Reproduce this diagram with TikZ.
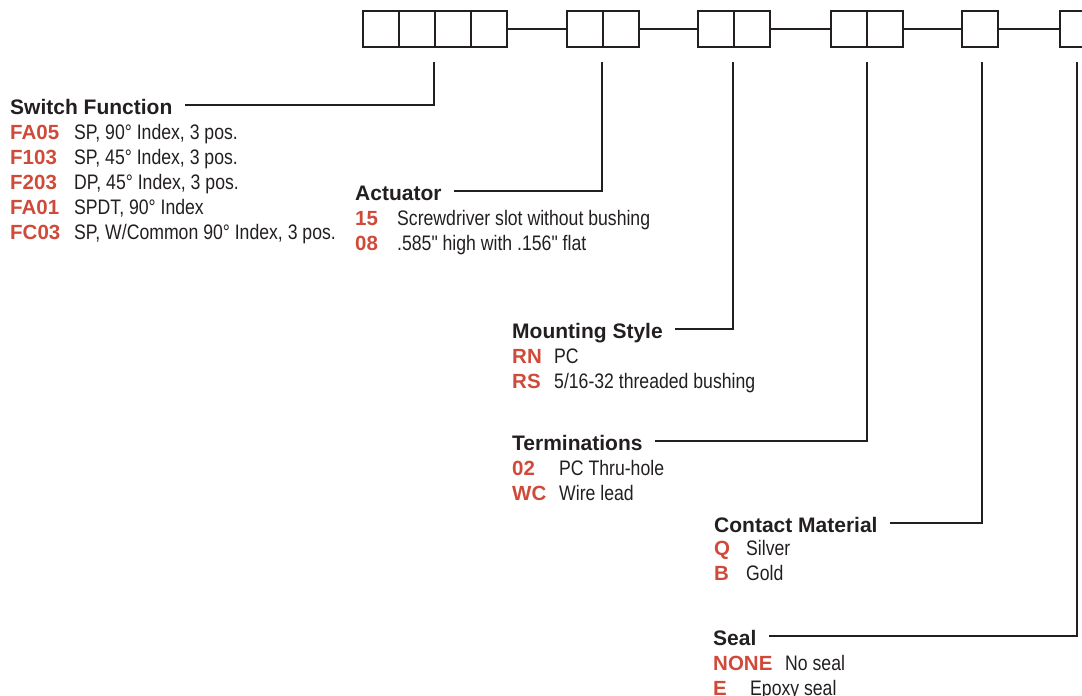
\documentclass[tikz,border=0pt]{standalone}
\usepackage{fontspec}
\setmainfont{Liberation Sans}
\newfontfamily\condfont{Liberation Sans}[FakeStretch=0.84]
\usetikzlibrary{calc}
\definecolor{codered}{RGB}{208,74,58}
\definecolor{ink}{RGB}{35,31,32}
\begin{document}
\begin{tikzpicture}[x=1pt,y=-1pt,
  cell/.style={draw=ink, line width=1.3pt, minimum width=36pt, minimum height=36pt, inner sep=0pt, outer sep=0pt},
  head/.style={anchor=base west, inner sep=0pt, font=\fontsize{21}{21}\selectfont\bfseries, text=ink},
  code/.style={anchor=base west, inner sep=0pt, font=\fontsize{20.5}{20.5}\selectfont\bfseries, text=codered},
  desc/.style={anchor=base west, inner sep=0pt, font=\fontsize{21}{21}\selectfont\condfont, text=ink},
  lead/.style={draw=ink, line width=1.2pt}]
\useasboundingbox (0,0) rectangle (1082,696);
\clip (0,0) rectangle (1082,696);
% code boxes
\node[cell] (b11) at (381,29) {};
\node[cell] (b12) at (417,29) {};
\node[cell] (b13) at (453,29) {};
\node[cell] (b14) at (489,29) {};
\node[cell] (b21) at (585,29) {};
\node[cell] (b22) at (621,29) {};
\node[cell] (b31) at (716,29) {};
\node[cell] (b32) at (752,29) {};
\node[cell] (b41) at (849,29) {};
\node[cell] (b42) at (885,29) {};
\node[cell] (b51) at (980,29) {};
\node[cell] (b61) at (1078,29) {};
\draw[lead] (b14.east) -- (b21.west);
\draw[lead] (b22.east) -- (b31.west);
\draw[lead] (b32.east) -- (b41.west);
\draw[lead] (b42.east) -- (b51.west);
\draw[lead] (b51.east) -- (b61.west);
% tick starts
\coordinate (t1) at (434,62);
\coordinate (t2) at (602,62);
\coordinate (t3) at (733,62);
\coordinate (t4) at (867,62);
\coordinate (t5) at (982,62);
\coordinate (t6) at (1077,62);
% Switch Function
\node[head] (h1) at (10,114.5) {Switch Function};
\node[code] (c11) at (10,139) {FA05};
\node[desc] (d11) at (74,139) {SP, 90° Index, 3 pos.};
\node[code] (c12) at (10,164) {F103};
\node[desc] (d12) at (74,164) {SP, 45° Index, 3 pos.};
\node[code] (c13) at (10,189) {F203};
\node[desc] (d13) at (74,189) {DP, 45° Index, 3 pos.};
\node[code] (c14) at (10,214) {FA01};
\node[desc] (d14) at (74,214) {SPDT, 90° Index};
\node[code] (c15) at (10,239) {FC03};
\node[desc] (d15) at (74,239) {SP, W/Common 90° Index, 3 pos.};
% Actuator
\node[head] (h2) at (355,200.5) {Actuator};
\node[code] (c21) at (355,225.5) {15};
\node[desc] (d21) at (397,225.5) {Screwdriver slot without bushing};
\node[code] (c22) at (355,250.5) {08};
\node[desc] (d22) at (397,250.5) {.585" high with .156" flat};
% Mounting Style
\node[head] (h3) at (512,338.5) {Mounting Style};
\node[code] (c31) at (512,363.5) {RN};
\node[desc] (d31) at (554,363.5) {PC};
\node[code] (c32) at (512,388.5) {RS};
\node[desc] (d32) at (554,388.5) {5/16-32 threaded bushing};
% Terminations
\node[head] (h4) at (512,450.5) {Terminations};
\node[code] (c41) at (512,475) {02};
\node[desc] (d41) at (559,475) {PC Thru-hole};
\node[code] (c42) at (512,500) {WC};
\node[desc] (d42) at (559,500) {Wire lead};
% Contact Material
\node[head] (h5) at (714,532.5) {Contact Material};
\node[code] (c51) at (714,555.5) {Q};
\node[desc] (d51) at (746,555.5) {Silver};
\node[code] (c52) at (714,580.5) {B};
\node[desc] (d52) at (746,580.5) {Gold};
% Seal
\node[head] (h6) at (713,645.5) {Seal};
\node[code] (c61) at (713,670) {NONE};
\node[desc] (d61) at (785,670) {No seal};
\node[code] (c62) at (713,695) {E};
\node[desc] (d62) at (750,695) {Epoxy seal};
% leader ends
\coordinate (l1) at ($(h1.base east)+(12,-9.5)$);
\coordinate (l2) at ($(h2.base east)+(12,-9.5)$);
\coordinate (l3) at ($(h3.base east)+(12,-9.5)$);
\coordinate (l4) at ($(h4.base east)+(12,-9.5)$);
\coordinate (l5) at ($(h5.base east)+(12,-9.5)$);
\coordinate (l6) at ($(h6.base east)+(12,-9.5)$);
\draw[lead] (t1) |- (l1);
\draw[lead] (t2) |- (l2);
\draw[lead] (t3) |- (l3);
\draw[lead] (t4) |- (l4);
\draw[lead] (t5) |- (l5);
\draw[lead] (t6) |- (l6);
\end{tikzpicture}
\end{document}
